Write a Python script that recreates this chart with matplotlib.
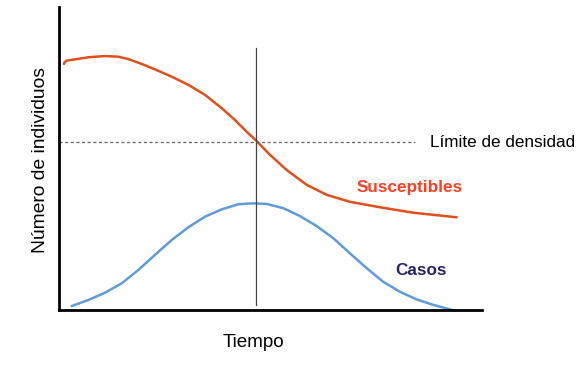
import matplotlib
matplotlib.use("Agg")
import matplotlib.pyplot as plt

plt.rcParams['font.family'] = ['Liberation Sans', 'DejaVu Sans']

# curva de susceptibles (tiempo, individuos)
t_sus = [1.18, 1.25, 1.82, 3.78, 6.93, 10.87, 14.02, 16.38, 19.55, 22.70, 26.64,
         30.57, 34.52, 38.46, 41.61, 44.75, 46.34, 49.88, 53.83, 58.56, 63.29,
         68.79, 75.89, 83.76, 94.02]
y_sus = [81.2, 81.6, 82.3, 82.7, 83.4, 83.8, 83.6, 82.8, 81.2, 79.4, 77.0,
         74.3, 71.0, 66.6, 62.7, 58.3, 56.3, 51.2, 46.2, 41.3, 38.0,
         35.7, 33.9, 32.1, 30.6]

# curva de casos
t_cas = [3.00, 6.93, 10.87, 14.82, 18.75, 22.70, 26.64, 30.57, 34.52, 38.46,
         42.39, 45.93, 49.10, 53.03, 56.97, 60.92, 64.85, 68.79, 72.74, 76.67,
         80.61, 84.56, 88.49, 92.43, 93.62]
y_cas = [1.3, 3.3, 5.7, 8.8, 13.2, 18.2, 23.1, 27.3, 30.8, 33.2,
         34.9, 35.2, 35.0, 33.6, 31.0, 27.7, 23.7, 18.7, 13.8, 9.3,
         6.0, 3.5, 1.7, 0.2, -0.2]

limite = 55.4      # límite de densidad
t_pico = 46.6      # momento del pico

fig = plt.figure(figsize=(5.87, 3.76), dpi=100)
ax = fig.add_axes([0.1005, 0.1755, 0.7206, 0.806])

ax.plot(t_sus, y_sus, color='#e04f1c', lw=1.8, solid_capstyle='round',
        solid_joinstyle='round')
ax.plot(t_cas, y_cas, color='#5f9bd6', lw=1.8, solid_capstyle='round',
        solid_joinstyle='round', clip_on=False)

ax.plot([t_pico, t_pico], [1.7, 86.5], color='#444444', lw=0.9)
ax.plot([0, 84.2], [limite, limite], color='#666666', lw=0.9, ls=(0, (2.5, 2)))

ax.text(87.7, limite, 'Límite de densidad', fontsize=12.3, va='center', ha='left')
ax.text(83.0, 40.3, 'Susceptibles', fontsize=12.3, fontweight='bold',
        color='#ff3d22', ha='center', va='center')
ax.text(85.6, 13.2, 'Casos', fontsize=12.3, fontweight='bold',
        color='#262466', ha='center', va='center')

ax.set_xlim(0, 100)
ax.set_ylim(0, 100)
ax.set_xticks([])
ax.set_yticks([])
for s in ['top', 'right']:
    ax.spines[s].set_visible(False)
for s in ['left', 'bottom']:
    ax.spines[s].set_linewidth(2)

fig.text(0.431, 0.0904, 'Tiempo', fontsize=13.6, ha='center', va='center')
fig.text(0.069, 0.574, 'Número de individuos', fontsize=13.9, ha='center',
         va='center', rotation=90)

fig.savefig('out.png', dpi=100)
